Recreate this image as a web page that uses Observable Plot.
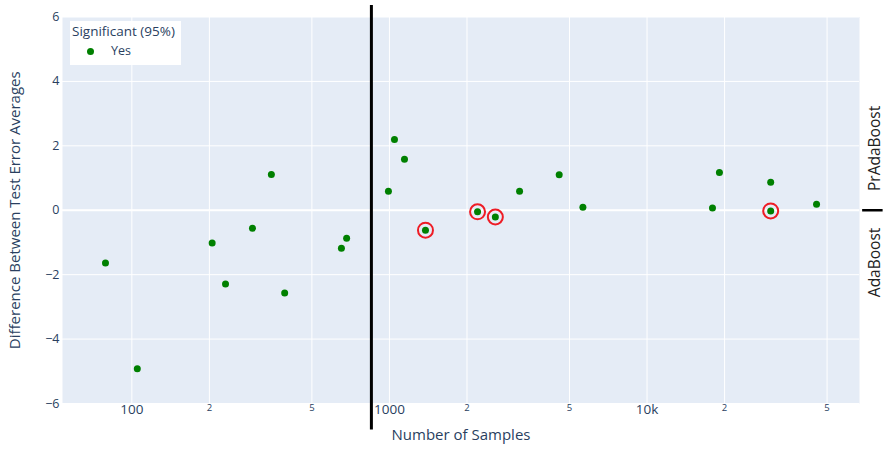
<!DOCTYPE html>
<html>
<head>
<meta charset="utf-8">
<script src="https://cdn.jsdelivr.net/npm/d3@7"></script>
<script src="https://cdn.jsdelivr.net/npm/@observablehq/plot@0.6"></script>
<style>
  body { margin: 0; background: #fff; font-family: "Open Sans", sans-serif; }
  #wrap { position: relative; width: 884px; height: 450px; }
  #legend { position: absolute; left: 70px; top: 21px; width: 111px; height: 44px; background: #fff;
            font-family: "Open Sans", sans-serif; font-size: 12.5px; color: #2a3f5f; }
  #legend .title { position: absolute; left: 2px; top: 1px; white-space: nowrap; font-size: 13.5px; }
  #legend .dot { position: absolute; left: 17px; top: 27px; width: 7px; height: 7px; border-radius: 50%; background: green; }
  #legend .lab { position: absolute; left: 41px; top: 21px; }
</style>
</head>
<body>
<div id="wrap">
  <div id="chart"></div>
  <div id="legend"><span class="title">Significant (95%)</span><span class="dot"></span><span class="lab">Yes</span></div>
</div>
<script>
// Data
const samples = [79, 105, 205, 231, 294, 348, 392, 651, 682,
                 991, 1046, 1144, 1380, 2198, 2577, 3200, 4560, 5636,
                 17950, 19100, 30200, 30200, 45500];
const diffs   = [-1.64, -4.92, -1.02, -2.29, -0.56, 1.11, -2.57, -1.18, -0.87,
                 0.59, 2.2, 1.58, -0.62, -0.05, -0.21, 0.59, 1.1, 0.09,
                 0.07, 1.17, 0.87, -0.02, 0.19];
const circled = [false, false, false, false, false, false, false, false, false,
                 false, false, false, true, true, true, false, false, false,
                 false, false, false, true, false];
const majorTicks = [100, 1000, 10000];
const majorLabels = ["100", "1000", "10k"];
const minorTicks = [200, 500, 2000, 5000, 20000, 50000];
const minorLabels = ["2", "5", "2", "5", "2", "5"];
const yTicks = [-6, -4, -2, 0, 2, 4, 6];
const splitAt = 851;
const sideLabels = ["PrAdaBoost", "AdaBoost"];
const sideLabelY = [1.92, -1.62];

const data = samples.map((s, i) => ({s, d: diffs[i], c: circled[i]}));
const txt = "#2a3f5f";

const chart = Plot.plot({
  width: 884,
  height: 450,
  marginLeft: 62,
  marginRight: 25,
  marginTop: 16.5,
  marginBottom: 47,
  style: {fontFamily: "Open Sans, sans-serif", background: "transparent"},
  x: {type: "log", domain: [53.8, 66800], axis: null},
  y: {domain: [-6, 6]},
  marks: [
    Plot.frame({fill: "#E5ECF6", stroke: null}),
    Plot.gridX([...majorTicks, ...minorTicks], {stroke: "white", strokeOpacity: 1, strokeWidth: 1}),
    Plot.gridY(yTicks, {stroke: "white", strokeOpacity: 1, strokeWidth: 1}),
    Plot.ruleY([0], {stroke: "white", strokeWidth: 2}),
    Plot.axisY(yTicks, {tickSize: 0, tickPadding: 3, fontSize: 12.5, fill: txt, label: null,
      tickFormat: d => d < 0 ? "\u2212" + Math.abs(d) : String(d)}),
    Plot.text(majorTicks, {x: d => d, text: (d, i) => majorLabels[i], frameAnchor: "bottom", dy: 10,
      fontSize: 13.5, fill: txt}),
    Plot.text(minorTicks, {x: d => d, text: (d, i) => minorLabels[i], frameAnchor: "bottom", dy: 7,
      fontSize: 9.5, fill: txt}),
    Plot.text(["Difference Between Test Error Averages"], {frameAnchor: "left", textAnchor: "middle", dx: -47, rotate: -90, fontSize: 15, fill: txt}),
    Plot.text(["Number of Samples"], {frameAnchor: "bottom", dy: 36, fontSize: 15, fill: txt}),
    Plot.ruleX([splitAt], {y1: 6.36, y2: -6.82, stroke: "black", strokeWidth: 3}),
    Plot.dot(data, {x: "s", y: "d", r: 3.5, fill: "green", stroke: null}),
    Plot.dot(data.filter(d => d.c), {x: "s", y: "d", r: 7.5, fill: "none", stroke: "#ee1c25", strokeWidth: 2}),
    Plot.ruleY([0], {x1: 68700, x2: 82500, stroke: "black", strokeWidth: 2.5}),
    Plot.text(sideLabels, {y: sideLabelY, frameAnchor: "right", textAnchor: "middle", dx: 16, rotate: -90, fontSize: 15.5, fill: "#222"})
  ]
});
document.getElementById("chart").appendChild(chart);
</script>
</body>
</html>
